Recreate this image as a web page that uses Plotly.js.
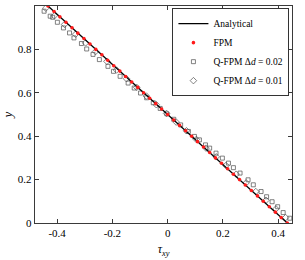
<!DOCTYPE html>
<html><head><meta charset="utf-8">
<script src="https://cdn.plot.ly/plotly-3.0.1.min.js"></script>
<style>html,body{margin:0;padding:0;background:#fff}#chart{width:305px;height:260px}</style>
</head><body><div id="chart"></div>
<script>
const xTickVals = [-0.4, -0.2, 0, 0.2, 0.4];
const xTickText = ["-0.4", "-0.2", "0", "0.2", "0.4"];
const yTickVals = [0, 0.2, 0.4, 0.6, 0.8, 1];
const yTickText = ["0", "0.2", "0.4", "0.6", "0.8", "1"];

const anaTau = [-0.433, 0.433];
const anaY = [1, 0];

const fpmY = [1.000,0.975,0.950,0.925,0.900,0.875,0.850,0.825,0.800,0.775,0.750,0.725,0.700,0.675,0.650,0.625,0.600,0.575,0.550,0.525,0.500,
  0.475,0.450,0.425,0.400,0.375,0.350,0.325,0.300,0.275,0.250,0.225,0.200,0.175,0.150,0.125,0.100,0.075,0.050,0.025,0.000];
const fpmTau = [-0.433,-0.411,-0.390,-0.368,-0.346,-0.325,-0.303,-0.281,-0.260,-0.238,-0.217,-0.195,-0.173,-0.152,-0.130,-0.108,-0.087,-0.065,-0.043,-0.022,0.000,
  0.022,0.043,0.065,0.087,0.108,0.130,0.152,0.173,0.195,0.217,0.238,0.260,0.281,0.303,0.325,0.346,0.368,0.390,0.411,0.433];

const q02Y = [0.976,0.953,0.948,0.925,0.899,0.876,0.853,0.827,0.802,0.777,0.753,0.722,0.699,0.676,0.645,0.622,0.599,0.577,0.554,0.528,0.503,
  0.478,0.452,0.422,0.399,0.383,0.360,0.345,0.322,0.299,0.276,0.255,0.230,0.199,0.176,0.145,0.121,0.098,0.075,0.048,0.022];
const q02Tau = [-0.447,-0.425,-0.416,-0.399,-0.377,-0.355,-0.339,-0.312,-0.293,-0.270,-0.247,-0.216,-0.196,-0.172,-0.143,-0.121,-0.098,-0.076,-0.052,-0.027,-0.003,
  0.022,0.047,0.075,0.097,0.115,0.137,0.152,0.175,0.198,0.220,0.238,0.262,0.291,0.310,0.338,0.358,0.378,0.398,0.418,0.442];

const q01Y = [0.990,0.955,0.915,0.870,0.830,0.790,0.745,0.705,0.665,0.625,0.585,0.545,0.505,0.465,0.425,0.385,0.345,0.305,0.265,0.225,0.185,0.145,0.105,0.065,0.025];
const q01Tau = [-0.441,-0.410,-0.373,-0.333,-0.297,-0.261,-0.220,-0.185,-0.149,-0.112,-0.077,-0.041,-0.004,0.031,0.068,0.104,0.139,0.176,0.211,0.248,0.284,0.319,0.356,0.392,0.427];

const serif = "Liberation Serif, DejaVu Serif, serif";
const axCol = "#3a3a3a";

const traces = [
  {x: q02Tau, y: q02Y, mode: "markers", type: "scatter", name: "Q-FPM Δ<i>d</i> = 0.02", legendrank: 3,
   marker: {symbol: "square-open", size: 4, color: "#4d4d4d", line: {width: 0.7}}},
  {x: q01Tau, y: q01Y, mode: "markers", type: "scatter", name: "Q-FPM Δ<i>d</i> = 0.01", legendrank: 4,
   marker: {symbol: "diamond-open", size: 5, color: "#4d4d4d", line: {width: 0.7}}},
  {x: anaTau, y: anaY, mode: "lines", type: "scatter", name: "Analytical", legendrank: 1,
   line: {color: "#000000", width: 1.3}},
  {x: fpmTau, y: fpmY, mode: "markers", type: "scatter", name: "FPM", legendrank: 2,
   marker: {symbol: "circle", size: 3.6, color: "#ff1a1a"}}
];

const axisCommon = {
  showgrid: false, zeroline: false, showline: true, mirror: "ticks",
  linecolor: axCol, linewidth: 1.2, ticks: "inside", ticklen: 4, tickcolor: axCol, tickwidth: 1,
  tickfont: {family: serif, size: 11, color: "#000"}
};

const layout = {
  width: 305, height: 260,
  margin: {l: 35, r: 13, t: 6, b: 37},
  paper_bgcolor: "#fff", plot_bgcolor: "#fff",
  showlegend: true,
  legend: {x: 0.99, y: 0.99, xanchor: "right", yanchor: "top", bgcolor: "#fff",
    bordercolor: "#333", borderwidth: 1, font: {family: serif, size: 9.5, color: "#000"},
    tracegroupgap: 0, itemwidth: 30},
  xaxis: Object.assign({}, axisCommon, {range: [-0.48, 0.45], tickvals: xTickVals, ticktext: xTickText,
    title: {text: "<i>τ</i><sub><i>xy</i></sub>", font: {family: serif, size: 12, color: "#000"}, standoff: 6}}),
  yaxis: Object.assign({}, axisCommon, {range: [0, 1], tickvals: yTickVals, ticktext: yTickText,
    title: {text: "<i>y</i>", font: {family: serif, size: 13, color: "#000"}, standoff: 6}})
};

Plotly.newPlot("chart", traces, layout, {displayModeBar: false, staticPlot: true});
</script></body></html>
